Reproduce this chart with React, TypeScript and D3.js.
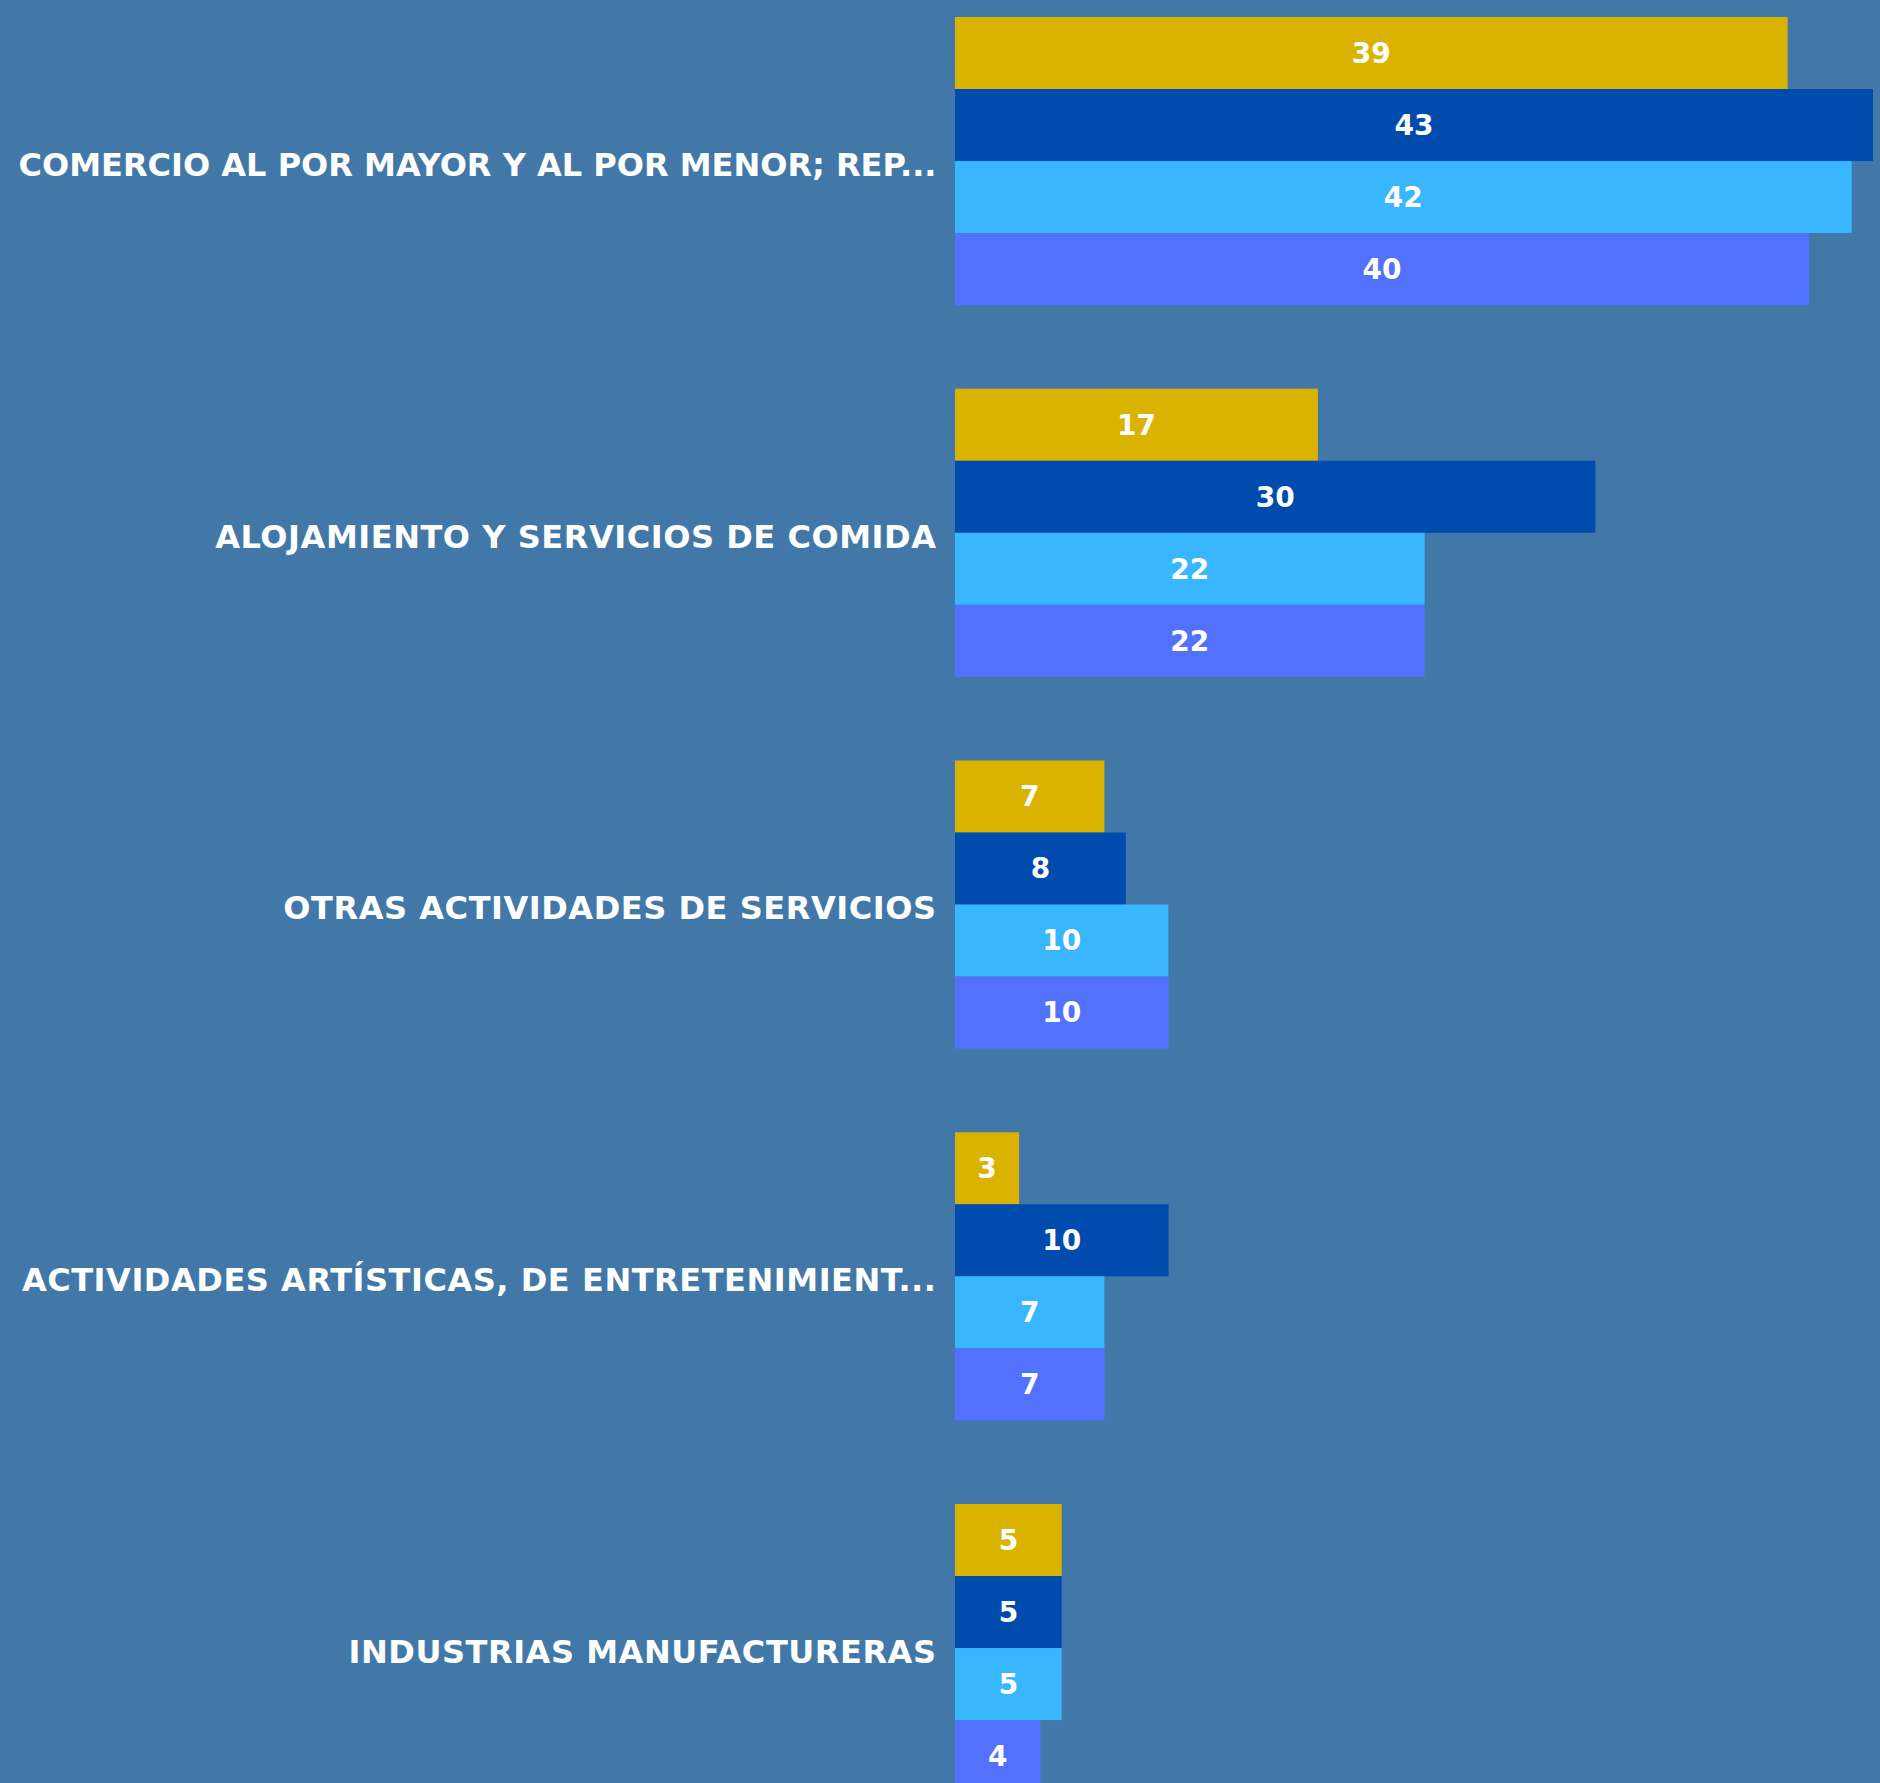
import React from "react";
import * as d3 from "d3";

const categories = [
  "COMERCIO AL POR MAYOR Y AL POR MENOR; REP...",
  "ALOJAMIENTO Y SERVICIOS DE COMIDA",
  "OTRAS ACTIVIDADES DE SERVICIOS",
  "ACTIVIDADES ARTÍSTICAS, DE ENTRETENIMIENT...",
  "INDUSTRIAS MANUFACTURERAS",
];
const seriesKeys = ["s1", "s2", "s3", "s4"];
const series1 = [39, 17, 7, 3, 5];
const series2 = [43, 30, 8, 10, 5];
const series3 = [42, 22, 10, 7, 5];
const series4 = [40, 22, 10, 7, 4];
const seriesValues = [series1, series2, series3, series4];
const colors = ["#D9B300", "#004BAE", "#38B6FF", "#5271FF"];

const W = 1880;
const H = 1783;
const BG = "#4278A8";

export default function App() {
  const svgRef = React.useRef<SVGSVGElement>(null);
  React.useEffect(() => {
    document.body.style.margin = "0";
    document.body.style.background = BG;
    const svg = svgRef.current;
    if (!svg) return;
    const maxW = 925;
    d3.select(svg)
      .selectAll<SVGTextElement, unknown>("text.cat")
      .each(function () {
        const len = this.getComputedTextLength();
        if (len > maxW) {
          this.setAttribute("letter-spacing", "0");
          const len2 = this.getComputedTextLength();
          if (len2 > maxW) {
            this.setAttribute("textLength", String(maxW));
            this.setAttribute("lengthAdjust", "spacingAndGlyphs");
          }
        }
      });
  }, []);

  const x0 = 955;
  const x = d3.scaleLinear().domain([0, 43]).range([x0, 1873]);
  const step = 371.75;
  const pInner = 0.225;
  const y = d3
    .scaleBand<string>()
    .domain(categories)
    .range([17, 17 + step * (categories.length - pInner)])
    .paddingInner(pInner)
    .paddingOuter(0);
  const yInner = d3
    .scaleBand<string>()
    .domain(seriesKeys)
    .range([0, y.bandwidth()])
    .padding(0);

  const font = "'DejaVu Sans', Verdana, sans-serif";

  return (
    <svg ref={svgRef} width={W} height={H} style={{ display: "block", background: BG }}>
      <rect x={0} y={0} width={W} height={H} fill={BG} />
      {categories.map((c, ci) => {
        const gy = y(c) as number;
        return (
          <g key={c}>
            <text
              className="cat"
              x={x0 - 18.5}
              y={gy + y.bandwidth() / 2 + 14.7}
              textAnchor="end"
              fill="#fff"
              fontFamily={font}
              fontWeight="bold"
              fontSize={32}
              letterSpacing={0.55}
            >
              {c}
            </text>
            {seriesKeys.map((k, si) => {
              const v = seriesValues[si][ci];
              const by = gy + (yInner(k) as number);
              const bw = x(v) - x(0);
              return (
                <g key={k}>
                  <rect x={x(0)} y={by} width={bw} height={yInner.bandwidth()} fill={colors[si]} />
                  <text
                    x={x(0) + bw / 2}
                    y={by + yInner.bandwidth() / 2 + 9.8}
                    textAnchor="middle"
                    fill="#fff"
                    fontFamily={font}
                    fontWeight="bold"
                    fontSize={28}
                  >
                    {v}
                  </text>
                </g>
              );
            })}
          </g>
        );
      })}
    </svg>
  );
}
